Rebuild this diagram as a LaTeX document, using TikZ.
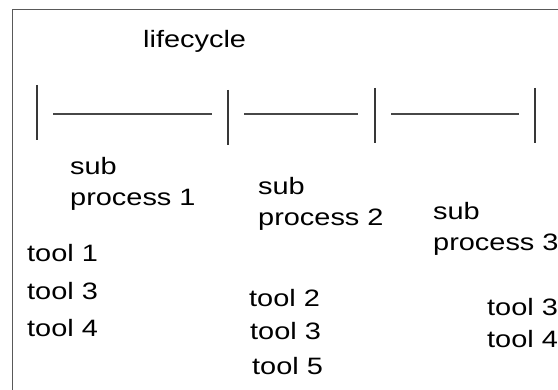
\documentclass[tikz,border=0pt]{standalone}
\usepackage{fontspec}
\setmainfont{Liberation Sans}[FakeStretch=1.22]
\begin{document}
\begin{tikzpicture}[x=1pt,y=-1pt,
  lbl/.style={inner sep=0pt,anchor=base west,align=left,text=black,
    font=\fontsize{23.7}{30.5}\selectfont},
  bar/.style={line width=1.4pt,draw=black!78},
  seg/.style={line width=1.4pt,draw=black!72},
  frame/.style={line width=1.2pt,draw=black!65}]
\useasboundingbox (0,0) rectangle (558,390);
\begin{scope}
\clip (0,0) rectangle (558,390);
\draw[frame] (12.5,9.5) rectangle (600,420);
\end{scope}
% lifecycle bars
\draw[bar] (37,85) -- (37,140);
\draw[bar] (228,90) -- (228,145);
\draw[bar] (375,88) -- (375,143);
\draw[bar] (535,88) -- (535,143);
\draw[seg] (53,114) -- (212,114);
\draw[seg] (244,114) -- (358,114);
\draw[seg] (391,114) -- (519,114);
% labels (base anchor = baseline of the last line)
\node[lbl] (life) at (143,48) {lifecycle};
\node[lbl] (sp1) at (70,205.5) {sub\\process 1};
\node[lbl] (sp2) at (258,225.5) {sub\\process 2};
\node[lbl] (sp3) at (433,250.5) {sub\\process 3};
\node[lbl] (t11) at (27,262) {tool 1};
\node[lbl] (t13) at (27,300) {tool 3};
\node[lbl] (t14) at (27,337) {tool 4};
\node[lbl] (t22) at (249,307) {tool 2};
\node[lbl] (t23) at (250,340) {tool 3};
\node[lbl] (t25) at (252,375) {tool 5};
\node[lbl] (t33) at (487,316) {tool 3};
\node[lbl] (t34) at (487,348) {tool 4};
\end{tikzpicture}
\end{document}
